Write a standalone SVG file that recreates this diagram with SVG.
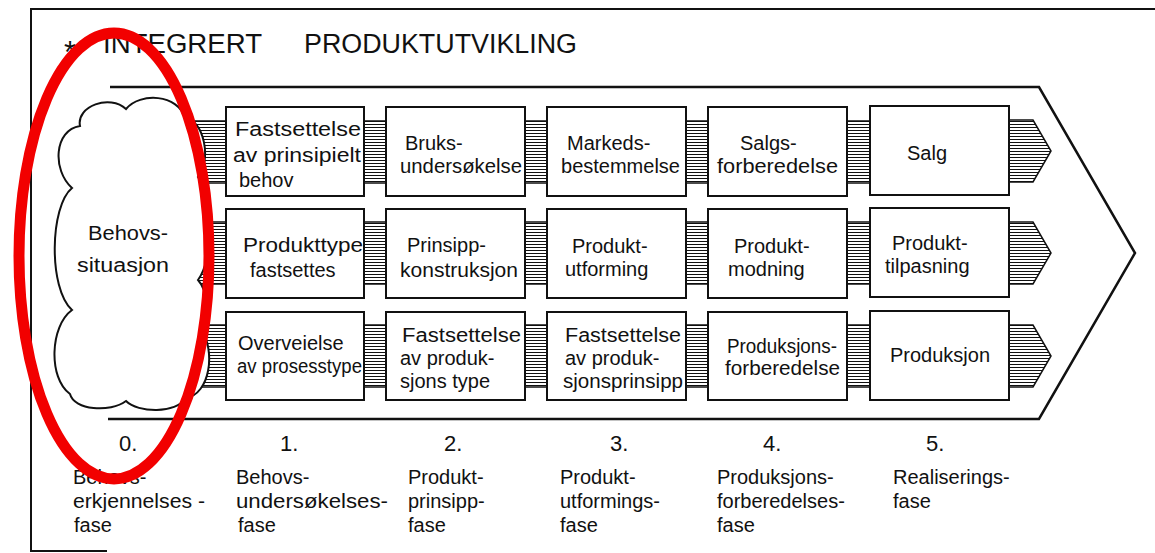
<svg xmlns="http://www.w3.org/2000/svg" width="1155" height="553" viewBox="0 0 1155 553">
  <defs>
    <pattern id="hatch" patternUnits="userSpaceOnUse" x="0" y="0" width="6" height="3">
      <rect x="0" y="1" width="6" height="1" fill="#111"/>
    </pattern>
    <style>
      .frame { fill: none; stroke: #111; stroke-width: 2; }
      .chev { fill: none; stroke: #111; stroke-width: 2.5; stroke-linejoin: miter; }
      .box { fill: #fff; stroke: #111; stroke-width: 2; }
      .band { fill: url(#hatch); stroke: #111; stroke-width: 1.5; }
      .cloud { fill: #fff; stroke: #111; stroke-width: 2; }
      .t { font-family: "Liberation Sans", Arial, sans-serif; font-size: 20px; fill: #111; }
      .title { font-family: "Liberation Sans", Arial, sans-serif; font-size: 27px; fill: #111; }
      .num { font-family: "Liberation Sans", Arial, sans-serif; font-size: 22px; fill: #111; }
      .mark { fill: none; stroke: #f20000; stroke-width: 11; }
    </style>
  </defs>

  <rect width="1155" height="553" fill="#fff"/>

  <!-- page frame -->
  <g id="frame">
    <polyline class="frame" points="1155,9 31,9 31,551 107,551"/>
  </g>

  <!-- heading -->
  <g id="title">
    <text class="title" x="64" y="63" style="font-size:31px">*</text>
    <text class="title" x="103" y="53" textLength="159" lengthAdjust="spacingAndGlyphs">INTEGRERT</text>
    <text class="title" x="304" y="53" textLength="273" lengthAdjust="spacingAndGlyphs">PRODUKTUTVIKLING</text>
  </g>

  <!-- large process arrow -->
  <g id="process-arrow">
    <polyline class="chev" points="110,87 1039,87 1135,253 1039,419 108,419"/>
  </g>

  <!-- hatched flow bands -->
  <g id="connectors">
    <!-- row 1 -->
    <rect class="band" x="190" y="121" width="36" height="62"/>
    <rect class="band" x="364" y="121" width="22" height="62"/>
    <rect class="band" x="525" y="121" width="22" height="62"/>
    <rect class="band" x="686" y="121" width="22" height="62"/>
    <rect class="band" x="847" y="121" width="23" height="62"/>
    <polygon class="band" points="1009,120 1033,120 1051,151 1033,182 1009,182"/>
    <!-- row 2 -->
    <rect class="band" x="190" y="222" width="36" height="62"/>
    <rect class="band" x="364" y="222" width="22" height="62"/>
    <rect class="band" x="525" y="222" width="22" height="62"/>
    <rect class="band" x="686" y="222" width="22" height="62"/>
    <rect class="band" x="847" y="222" width="23" height="62"/>
    <polygon class="band" points="1009,222 1033,222 1051,253 1033,284 1009,284"/>
    <!-- row 3 -->
    <rect class="band" x="190" y="325" width="36" height="62"/>
    <rect class="band" x="364" y="325" width="22" height="62"/>
    <rect class="band" x="525" y="325" width="22" height="62"/>
    <rect class="band" x="686" y="325" width="22" height="62"/>
    <rect class="band" x="847" y="325" width="23" height="62"/>
    <polygon class="band" points="1009,325 1033,325 1051,356 1033,387 1009,387"/>
  </g>

  <!-- phase 0: need situation -->
  <g id="behovssituasjon">
    <path class="cloud" d="M80,126 C76,106 110,94 126,109 C140,92 178,94 185,118 C204,120 212,160 198,177 C214,200 214,258 198,280 C209,292 209,318 201,328 C216,352 210,394 186,398 C176,414 138,413 126,401 C110,413 74,410 70,394 C48,378 50,326 72,310 C48,288 50,206 72,188 C52,170 54,130 80,126 Z"/>
    <text class="t" x="88" y="240" textLength="80" lengthAdjust="spacingAndGlyphs">Behovs-</text>
    <text class="t" x="77" y="272" textLength="92" lengthAdjust="spacingAndGlyphs">situasjon</text>
  </g>

  <!-- row 1 -->
  <g id="fastsettelse-behov">
    <rect class="box" x="226" y="107" width="138" height="89"/>
    <text class="t" x="235" y="136" textLength="126" lengthAdjust="spacingAndGlyphs">Fastsettelse</text>
    <text class="t" x="233" y="162" textLength="128" lengthAdjust="spacingAndGlyphs">av prinsipielt</text>
    <text class="t" x="239" y="187">behov</text>
  </g>
  <g id="bruksundersokelse">
    <rect class="box" x="386" y="107" width="139" height="89"/>
    <text class="t" x="405" y="150">Bruks-</text>
    <text class="t" x="400" y="173" textLength="122" lengthAdjust="spacingAndGlyphs">undersøkelse</text>
  </g>
  <g id="markedsbestemmelse">
    <rect class="box" x="547" y="107" width="139" height="89"/>
    <text class="t" x="567" y="150">Markeds-</text>
    <text class="t" x="561" y="173" textLength="119" lengthAdjust="spacingAndGlyphs">bestemmelse</text>
  </g>
  <g id="salgsforberedelse">
    <rect class="box" x="708" y="107" width="139" height="89"/>
    <text class="t" x="740" y="150">Salgs-</text>
    <text class="t" x="717" y="173" textLength="121" lengthAdjust="spacingAndGlyphs">forberedelse</text>
  </g>
  <g id="salg">
    <rect class="box" x="870" y="106" width="139" height="89"/>
    <text class="t" x="907" y="160">Salg</text>
  </g>

  <!-- row 2 -->
  <g id="produkttype">
    <rect class="box" x="226" y="209" width="138" height="89"/>
    <text class="t" x="243" y="252" textLength="120" lengthAdjust="spacingAndGlyphs">Produkttype</text>
    <text class="t" x="250" y="277">fastsettes</text>
  </g>
  <g id="prinsippkonstruksjon">
    <rect class="box" x="386" y="209" width="139" height="89"/>
    <text class="t" x="407" y="252">Prinsipp-</text>
    <text class="t" x="400" y="277" textLength="118" lengthAdjust="spacingAndGlyphs">konstruksjon</text>
  </g>
  <g id="produktutforming">
    <rect class="box" x="547" y="209" width="139" height="89"/>
    <text class="t" x="572" y="253">Produkt-</text>
    <text class="t" x="565" y="276">utforming</text>
  </g>
  <g id="produktmodning">
    <rect class="box" x="708" y="209" width="139" height="89"/>
    <text class="t" x="734" y="253">Produkt-</text>
    <text class="t" x="728" y="276">modning</text>
  </g>
  <g id="produkttilpasning">
    <rect class="box" x="870" y="208" width="139" height="89"/>
    <text class="t" x="892" y="250">Produkt-</text>
    <text class="t" x="885" y="273">tilpasning</text>
  </g>

  <!-- row 3 -->
  <g id="prosesstype">
    <rect class="box" x="226" y="312" width="138" height="88"/>
    <text class="t" x="238" y="350">Overveielse</text>
    <text class="t" x="237" y="373" textLength="125" lengthAdjust="spacingAndGlyphs">av prosesstype</text>
  </g>
  <g id="produksjonstype">
    <rect class="box" x="386" y="312" width="139" height="88"/>
    <text class="t" x="402" y="342" textLength="119" lengthAdjust="spacingAndGlyphs">Fastsettelse</text>
    <text class="t" x="400" y="365">av produk-</text>
    <text class="t" x="400" y="388">sjons type</text>
  </g>
  <g id="produksjonsprinsipp">
    <rect class="box" x="547" y="312" width="139" height="88"/>
    <text class="t" x="565" y="342" textLength="116" lengthAdjust="spacingAndGlyphs">Fastsettelse</text>
    <text class="t" x="565" y="365">av produk-</text>
    <text class="t" x="563" y="388" textLength="120" lengthAdjust="spacingAndGlyphs">sjonsprinsipp</text>
  </g>
  <g id="produksjonsforberedelse">
    <rect class="box" x="708" y="312" width="139" height="88"/>
    <text class="t" x="727" y="353" textLength="110" lengthAdjust="spacingAndGlyphs">Produksjons-</text>
    <text class="t" x="725" y="375" textLength="115" lengthAdjust="spacingAndGlyphs">forberedelse</text>
  </g>
  <g id="produksjon">
    <rect class="box" x="870" y="311" width="139" height="89"/>
    <text class="t" x="890" y="362">Produksjon</text>
  </g>

  <!-- phase numbers and names -->
  <g id="phases">
    <text class="num" x="119" y="451">0.</text>
    <text class="num" x="280" y="451">1.</text>
    <text class="num" x="444" y="451">2.</text>
    <text class="num" x="610" y="451">3.</text>
    <text class="num" x="763" y="451">4.</text>
    <text class="num" x="926" y="451">5.</text>

    <text class="t" x="73" y="484">Behovs-</text>
    <text class="t" x="73" y="508" textLength="132" lengthAdjust="spacingAndGlyphs">erkjennelses -</text>
    <text class="t" x="74" y="532">fase</text>

    <text class="t" x="236" y="484">Behovs-</text>
    <text class="t" x="236" y="508" textLength="152" lengthAdjust="spacingAndGlyphs">undersøkelses-</text>
    <text class="t" x="238" y="532">fase</text>

    <text class="t" x="408" y="484">Produkt-</text>
    <text class="t" x="408" y="508">prinsipp-</text>
    <text class="t" x="408" y="532">fase</text>

    <text class="t" x="560" y="484">Produkt-</text>
    <text class="t" x="560" y="508">utformings-</text>
    <text class="t" x="560" y="532">fase</text>

    <text class="t" x="717" y="484">Produksjons-</text>
    <text class="t" x="717" y="508">forberedelses-</text>
    <text class="t" x="717" y="532">fase</text>

    <text class="t" x="893" y="484">Realiserings-</text>
    <text class="t" x="893" y="508">fase</text>
  </g>

  <!-- red highlight around phase 0 -->
  <g id="highlight">
    <ellipse class="mark" cx="114" cy="256" rx="95" ry="223"/>
  </g>
</svg>
